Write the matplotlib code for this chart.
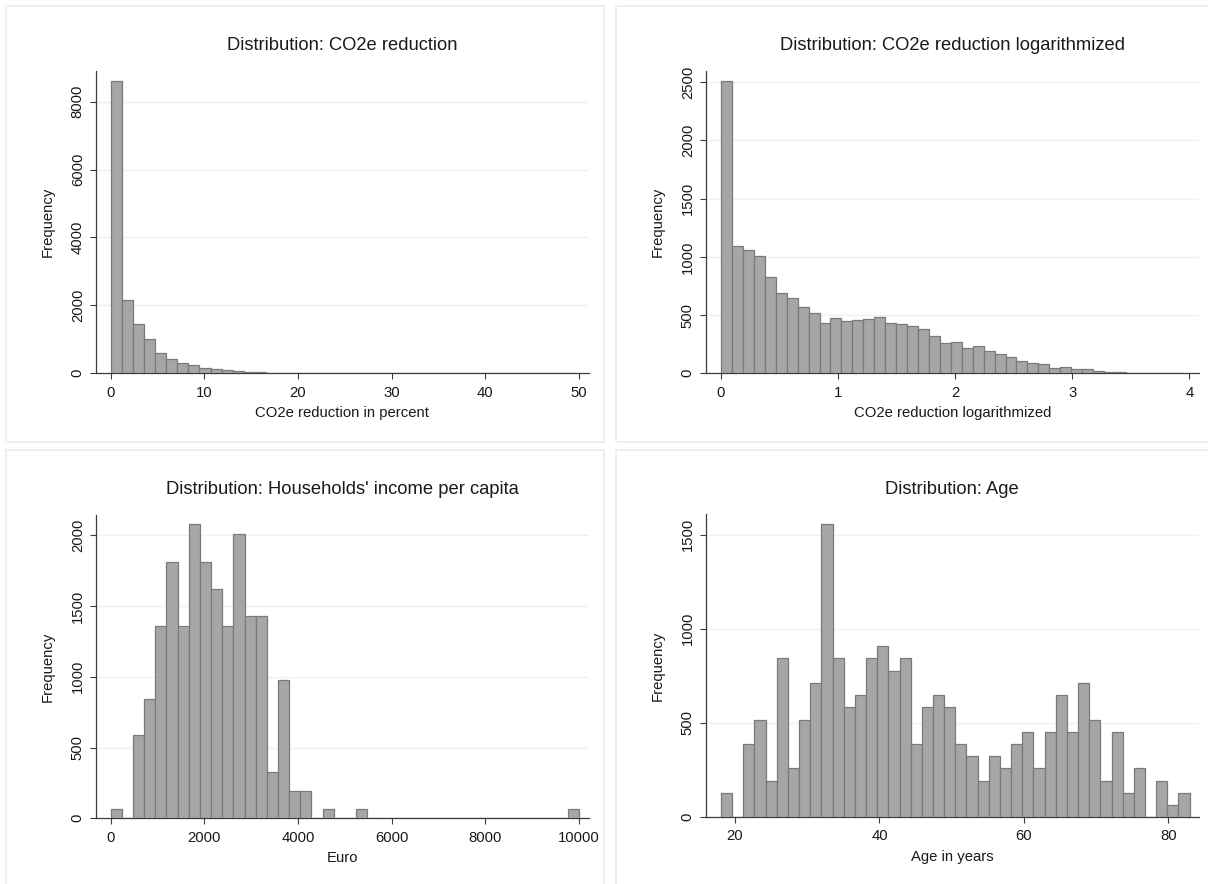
import matplotlib
matplotlib.use("Agg")
import matplotlib.pyplot as plt
from matplotlib.patches import Rectangle
import numpy as np

plt.rcParams['font.family'] = ['Liberation Sans', 'DejaVu Sans']

# ---------------- data ----------------
# Panel 1: CO2e reduction in percent (42 bins)
co2_bin_start = 0.0
co2_bin_width = 1.185
co2_counts = [8618, 2169, 1463, 1011, 599, 412, 314, 236, 167, 128, 88, 59, 49, 29,
              22, 17, 13, 11, 9, 8, 7, 6, 6, 5, 5, 4, 4, 4, 3, 3, 3, 3, 3, 2, 2, 2, 2,
              0, 2, 0, 2, 2]

# Panel 2: CO2e reduction logarithmized (42 bins)
log_bin_start = 0.0
log_bin_width = 0.09348
log_counts = [2515, 1097, 1063, 1011, 825, 693, 647, 573, 521, 435,
              478, 453, 458, 470, 484, 430, 424, 407, 378, 318,
              261, 266, 215, 235, 192, 163, 137, 109, 92, 77,
              46, 54, 37, 37, 23, 14, 14, 6, 4, 3, 2, 2]

# Panel 3: Households' income per capita (42 bins)
inc_bin_start = 0.0
inc_bin_width = 238.1
inc_counts = [66, 0, 587, 846, 1362, 1814, 1362, 2076, 1814, 1623,
              1362, 2010, 1428, 1428, 325, 975, 196, 196, 0, 66,
              0, 0, 66, 0, 0, 0, 0, 0, 0, 0,
              0, 0, 0, 0, 0, 0, 0, 0, 0, 0, 0, 66]

# Panel 4: Age in years (42 bins)
age_bin_start = 18.06
age_bin_width = 1.545
age_counts = [129, 0, 388, 517, 193, 843, 259, 517, 712, 1558,
              843, 583, 648, 843, 908, 777, 843, 388, 583, 648,
              583, 388, 324, 193, 324, 259, 388, 453, 259, 453,
              648, 453, 712, 517, 193, 453, 129, 259, 0, 193, 64, 129]

titles = ["Distribution: CO2e reduction",
          "Distribution: CO2e reduction logarithmized",
          "Distribution: Households' income per capita",
          "Distribution: Age"]
xlabels = ["CO2e reduction in percent", "CO2e reduction logarithmized",
           "Euro", "Age in years"]
ylabel = "Frequency"

co2_xticks = [0, 10, 20, 30, 40, 50]
co2_yticks = [0, 2000, 4000, 6000, 8000]
log_xticks = [0, 1, 2, 3, 4]
log_yticks = [0, 500, 1000, 1500, 2000, 2500]
inc_xticks = [0, 2000, 4000, 6000, 8000, 10000]
inc_yticks = [0, 500, 1000, 1500, 2000]
age_xticks = [20, 40, 60, 80]
age_yticks = [0, 500, 1000, 1500]

# ---------------- layout ----------------
W, H = 1208, 884
fig = plt.figure(figsize=(W / 100, H / 100), dpi=100)
fig.patch.set_facecolor("white")

def fx(px):
    return px / W

def fy(py):
    return 1 - py / H

BOX_COLOR = "#e4eeef"
boxes = [(5.5, 6, 604.3, 442.3), (616, 6, 1215, 442.3),
         (5.5, 450, 604.3, 892), (616, 450, 1215, 892)]
for (bx0, by0, bx1, by1) in boxes:
    fig.patches.append(Rectangle((fx(bx0), fy(by1)), fx(bx1) - fx(bx0), fy(by0) - fy(by1),
                                 transform=fig.transFigure, fill=False,
                                 edgecolor=BOX_COLOR, linewidth=1.2))

panels = [
    dict(counts=co2_counts, start=co2_bin_start, width=co2_bin_width,
         xticks=co2_xticks, yticks=co2_yticks, xlim=(-1.6, 51.07), ylim=(0, 8904),
         rect=(95.7, 71, 589, 373.3)),
    dict(counts=log_counts, start=log_bin_start, width=log_bin_width,
         xticks=log_xticks, yticks=log_yticks, xlim=(-0.131, 4.083), ylim=(0, 2597),
         rect=(705.7, 71, 1199, 373.3)),
    dict(counts=inc_counts, start=inc_bin_start, width=inc_bin_width,
         xticks=inc_xticks, yticks=inc_yticks, xlim=(-320.5, 10214), ylim=(0, 2143),
         rect=(95.7, 515, 589, 818.3)),
    dict(counts=age_counts, start=age_bin_start, width=age_bin_width,
         xticks=age_xticks, yticks=age_yticks, xlim=(15.94, 84.25), ylim=(0, 1610),
         rect=(705.7, 514, 1199, 817)),
]
title_y = [45, 45, 490, 490]

AX_COLOR = "#3c3c3c"
GRID_COLOR = "#eaf2f3"
BAR_FILL = "#a6a6a6"
BAR_EDGE = "#7a7a7a"
TEXT_COLOR = "#1a1a1a"

for i, p in enumerate(panels):
    x0, y0, x1, y1 = p["rect"]
    ax = fig.add_axes([fx(x0), fy(y1), fx(x1) - fx(x0), fy(y0) - fy(y1)])
    n = len(p["counts"])
    lefts = p["start"] + np.arange(n) * p["width"]
    ax.bar(lefts, p["counts"], width=p["width"], align="edge",
           color=BAR_FILL, edgecolor=BAR_EDGE, linewidth=0.9, zorder=3)
    ax.set_xlim(*p["xlim"])
    ax.set_ylim(*p["ylim"])
    ax.set_xticks(p["xticks"])
    ax.set_yticks(p["yticks"])
    for yv in p["yticks"][1:]:
        ax.axhline(yv, color=GRID_COLOR, linewidth=1.0, zorder=1)
    for s in ["top", "right"]:
        ax.spines[s].set_visible(False)
    for s in ["left", "bottom"]:
        ax.spines[s].set_color(AX_COLOR)
        ax.spines[s].set_linewidth(0.9)
    ax.tick_params(axis="both", direction="out", length=4.3, width=0.8,
                   color=AX_COLOR, labelsize=10.7, labelcolor=TEXT_COLOR)
    ax.tick_params(axis="x", pad=4.5)
    ax.tick_params(axis="y", pad=3.5)
    for lab in ax.get_yticklabels():
        lab.set_rotation(90)
        lab.set_va("center")
    ax.set_xlabel(xlabels[i], fontsize=10.7, color=TEXT_COLOR, va="center")
    ax.xaxis.set_label_coords(0.5, -39.7 / (y1 - y0))
    ax.set_ylabel(ylabel, fontsize=10.7, color=TEXT_COLOR, va="center", ha="center")
    ax.yaxis.set_label_coords(-47.7 / (x1 - x0), 0.5)
    ax.set_facecolor("none")
    fig.text(fx((x0 + x1) / 2), fy(title_y[i]), titles[i], fontsize=13.2,
             ha="center", va="center", color=TEXT_COLOR)

fig.savefig("out.png", dpi=100, facecolor="white")
